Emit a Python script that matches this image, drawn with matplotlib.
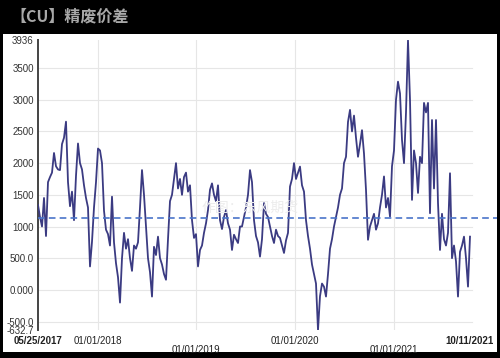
import matplotlib
matplotlib.use('Agg')
import matplotlib.pyplot as plt
import matplotlib.patches as patches
import pandas as pd

title = '【CU】精废价差'
start_date = '2017-05-25'
end_date = '2021-10-11'
mean_value = 1130

# spread values at even spacing between start and end
spread = [
    1340, 1150, 1000, 1450, 850, 1700, 1780, 1850, 2160, 1950,
    1900, 1890, 2300, 2400, 2654, 1700, 1320, 1550, 1100, 1800,
    2310, 2000, 1900, 1650, 1450, 1300, 370, 760, 1300, 1700,
    2230, 2200, 2000, 1250, 950, 880, 700, 1470, 750, 420,
    200, -200, 500, 900, 650, 800, 500, 300, 700, 650,
    750, 1300, 1890, 1500, 1000, 500, 280, -105, 680, 550,
    840, 500, 400, 250, 160, 800, 1400, 1500, 1750, 2000,
    1600, 1750, 1500, 1780, 1850, 1550, 1650, 1100, 820, 880,
    370, 630, 700, 900, 1050, 1260, 1580, 1680, 1500, 1400,
    1650, 1100, 960, 1150, 1260, 1050, 950, 630, 870, 800,
    740, 1000, 1000, 1150, 1300, 1500, 1890, 1700, 1100, 850,
    750, 525, 800, 1370, 1200, 1150, 1000, 850, 740, 950,
    850, 820, 700, 583, 780, 900, 1630, 1750, 2000, 1750,
    1850, 1945, 1650, 1550, 1100, 850, 650, 400, 250, 100,
    -632.7, -100, 100, 50, -105, 250, 650, 800, 1000, 1150,
    1300, 1500, 1600, 2000, 2100, 2650, 2840, 2500, 2750, 2400,
    2100, 2300, 2520, 2150, 1577, 790, 1000, 1100, 1200, 950,
    1050, 1300, 1500, 1790, 1300, 1450, 1156, 1950, 2200, 3000,
    3285, 3100, 2366, 2000, 2800, 3936, 3000, 1420, 2200, 2000,
    1530, 2100, 2000, 2950, 2800, 2950, 1210, 2680, 1600, 2680,
    1370, 630, 1200, 800, 700, 900, 1840, 500, 700, 450,
    -105, 600, 700, 840, 500, 52, 840,
]

y_ticks = [3936, 3500, 3000, 2500, 2000, 1500, 1000, 500, 0, -500, -632.7]
y_tick_labels = ['3936', '3500', '3000', '2500', '2000', '1500', '1000',
                 '500.0', '0.000', '-500.0', '-632.7']
grid_values = [3500, 3000, 2500, 2000, 1500, 1000, 500, 0, -500]
year_starts = ['2018-01-01', '2019-01-01', '2020-01-01', '2021-01-01']
x_labels = [('2017-05-25', '05/25/2017', 0, 'bold'),
            ('2018-01-01', '01/01/2018', 0, 'normal'),
            ('2019-01-01', '01/01/2019', 1, 'normal'),
            ('2020-01-01', '01/01/2020', 0, 'normal'),
            ('2021-01-01', '01/01/2021', 1, 'normal'),
            ('2021-10-11', '10/11/2021', 0, 'bold')]

dates = pd.date_range(start_date, end_date, periods=len(spread))
t0 = pd.Timestamp(start_date)
t1 = pd.Timestamp(end_date)

plt.rcParams['font.family'] = ['Liberation Sans', 'DejaVu Sans']

fig = plt.figure(figsize=(5, 3.58), dpi=100, facecolor='black')
fig.patches.append(patches.Rectangle((0.006, 0.017), 0.988, 0.888,
                                     transform=fig.transFigure,
                                     facecolor='white', edgecolor='none', zorder=-10))
fig.text(0.02, 1 - 16 / 358, title, color='#a8a8a8', fontsize=11.5,
         fontweight='bold', va='center',
         family=['Noto Sans CJK SC', 'DejaVu Sans'])

ax = fig.add_axes([0.076, 28 / 358, 0.918, (330 - 40.4) / 358])
ax.set_facecolor('none')
# plot spans x=38..470 px, axes carry on to 497 px
px_days = (t1 - t0) / 432
ax.set_xlim(t0, t1 + 27 * px_days)
ax.set_ylim(-632.7, 3936)

for v in grid_values:
    ax.plot([t0, t1 + 2 * px_days], [v, v], color='#e6e6e6', lw=0.8, zorder=1)
for d in year_starts:
    ax.axvline(pd.Timestamp(d), color='#e6e6e6', lw=0.8, zorder=1)

fig.text(0.5, 0.42, '作图：东风期货', ha='center', va='center', fontsize=10,
         color='#ececec', zorder=1, family=['Noto Sans CJK SC', 'DejaVu Sans'])

ax.plot(dates, spread, color='#3b3b82', lw=1.3, zorder=3)
ax.axhline(mean_value, color='#4a74c9', lw=1.2, ls=(0, (4, 2.5)), zorder=4)

for s in ['top', 'right', 'bottom']:
    ax.spines[s].set_visible(False)
ax.spines['left'].set_color('#444444')
ax.spines['left'].set_linewidth(1.4)

ax.set_yticks(y_ticks)
ax.set_yticklabels(y_tick_labels)
ax.tick_params(axis='y', length=0, pad=3, labelsize=7, labelcolor='#333333')
ax.set_xticks([])

for d, lab, row, w in x_labels:
    ax.text(pd.Timestamp(d), -0.02 - row * 0.031, lab,
            transform=ax.get_xaxis_transform(), ha='center', va='top',
            fontsize=7, fontweight=w, color='#222222')

fig.savefig('out.png', dpi=100, facecolor='black')
